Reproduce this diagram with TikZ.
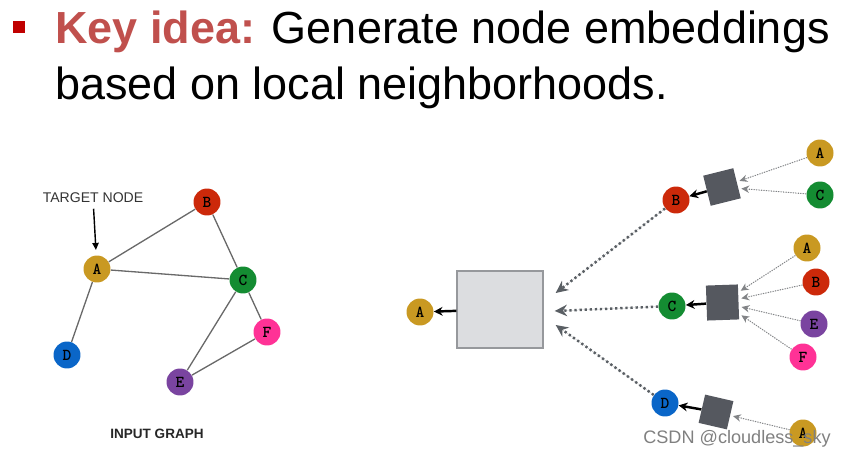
\documentclass[tikz,border=0pt]{standalone}
\usepackage{fontspec}
\setmainfont{Liberation Sans}
\usetikzlibrary{positioning}
\usetikzlibrary{arrows.meta}
\definecolor{keyred}{RGB}{192,80,77}
\definecolor{bulletred}{RGB}{192,0,0}
\definecolor{colA}{RGB}{201,153,34}
\definecolor{colB}{RGB}{204,41,10}
\definecolor{colC}{RGB}{20,140,50}
\definecolor{colD}{RGB}{10,102,200}
\definecolor{colE}{RGB}{122,68,160}
\definecolor{colF}{RGB}{255,50,150}
\definecolor{edgegray}{RGB}{105,105,105}
\definecolor{aggdark}{RGB}{85,88,95}
\definecolor{hubfill}{RGB}{220,221,224}
\definecolor{hubline}{RGB}{150,152,156}
\definecolor{flowgray}{RGB}{90,95,100}
\definecolor{leafgray}{RGB}{130,132,135}

\begin{document}
\begin{tikzpicture}[x=0.02cm, y=-0.02cm,
    vert/.style={circle, minimum size=0.54cm, inner sep=0pt,
        font=\fontsize{9.5}{9.5}\selectfont\ttfamily\bfseries},
    edge/.style={draw=edgegray, line width=0.75pt},
    agg/.style={fill=aggdark, inner sep=0pt},
    leaf/.style={-{Stealth[length=4.5pt,width=4.2pt]}, draw=leafgray, fill=leafgray,
        line width=0.6pt, dash pattern=on 0.6pt off 0.8pt, shorten >=1.5pt},
    flow/.style={-{Stealth[length=7pt,width=6.5pt]}, draw=flowgray, fill=flowgray,
        line width=1.4pt, dash pattern=on 1.3pt off 1.6pt},
    push/.style={-{Stealth[length=5pt,width=5pt]}, line width=1.4pt}]
    \useasboundingbox (0,0) rectangle (846,456);

    % heading
    \fill[bulletred] (13,21) rectangle (25,33);
    \node[anchor=base west, inner sep=0pt, font=\fontsize{25.6}{30}\selectfont] (head1) at (55,43.3)
        {\textbf{\color{keyred}Key idea:} Generate node embeddings};
    \node[anchor=base west, inner sep=0pt, font=\fontsize{25.6}{30}\selectfont] (head2) at (55,100)
        {based on local neighborhoods.};

    % input graph
    \node[vert, fill=colA] (A) at (97,269) {A};
    \node[vert, fill=colB] (B) at (207,202) {B};
    \node[vert, fill=colC] (C) at (243,280) {C};
    \node[vert, fill=colD] (D) at (67,355) {D};
    \node[vert, fill=colE] (E) at (180,382) {E};
    \node[vert, fill=colF] (F) at (267,332) {F};
    \draw[edge] (A) -- (B);
    \draw[edge] (A) -- (C);
    \draw[edge] (B) -- (C);
    \draw[edge] (A) -- (D);
    \draw[edge] (C) -- (E);
    \draw[edge] (C) -- (F);
    \draw[edge] (E) -- (F);

    \node[anchor=base, inner sep=2pt, font=\fontsize{8}{8}\selectfont, text=black!80] (target) at (93,203) {TARGET NODE};
    \draw[-{Triangle[length=4pt,width=3.6pt]}, line width=0.8pt, shorten <=1pt, shorten >=3pt] (target) -- (A);
    \node[anchor=base, inner sep=0pt, font=\fontsize{7.7}{8}\selectfont\bfseries, text=black!85] (caption) at (157,438) {INPUT GRAPH};

    % computation graph
    \node[draw=hubline, fill=hubfill, line width=0.8pt, minimum width=1.72cm, minimum height=1.54cm] (hub) at (500,309.5) {};
    \node[vert, fill=colA] (A0) at (420,312) {A};
    \draw[push] (hub) -- (A0);

    \node[vert, fill=colB] (B1) at (676,200) {B};
    \node[agg, minimum size=0.62cm, rotate=14] (aggB) at (722,187) {};
    \node[vert, fill=colA] (A1) at (820,153) {A};
    \node[vert, fill=colC] (C1) at (820,195) {C};
    \draw[leaf] (A1) -- (aggB);
    \draw[leaf] (C1) -- (aggB);
    \draw[push] (aggB) -- (B1);

    \node[vert, fill=colC] (C2) at (672,306) {C};
    \node[agg, minimum width=0.64cm, minimum height=0.7cm, rotate=2] (aggC) at (722.5,302.5) {};
    \node[vert, fill=colA] (A2) at (807,248) {A};
    \node[vert, fill=colB] (B2) at (816,282) {B};
    \node[vert, fill=colE] (E2) at (814,324) {E};
    \node[vert, fill=colF] (F2) at (803,357) {F};
    \draw[leaf] (A2) -- (aggC);
    \draw[leaf] (B2) -- (aggC);
    \draw[leaf] (E2) -- (aggC);
    \draw[leaf] (F2) -- (aggC);
    \draw[push] (aggC) -- (C2);

    \node[vert, fill=colD] (D3) at (665,403) {D};
    \node[agg, minimum size=0.58cm, rotate=-13] (aggD) at (716,412) {};
    \node[vert, fill=colA] (A3) at (803,433) {A};
    \draw[leaf] (A3) -- (aggD);
    \draw[push] (aggD) -- (D3);

    \coordinate (inB) at ([shift={(12,-16.5)}]hub.east);
    \coordinate (inC) at ([shift={(11,1.5)}]hub.east);
    \coordinate (inD) at ([shift={(12,15.5)}]hub.east);
    \draw[flow] (B1) -- (inB);
    \draw[flow] (C2) -- (inC);
    \draw[flow] (D3) -- (inD);

    % watermark
    \node[anchor=base west, inner sep=0pt, font=\fontsize{10.3}{12}\selectfont, text=black!50] (mark) at (643,443) {CSDN @cloudless\_sky};
\end{tikzpicture}
\end{document}
